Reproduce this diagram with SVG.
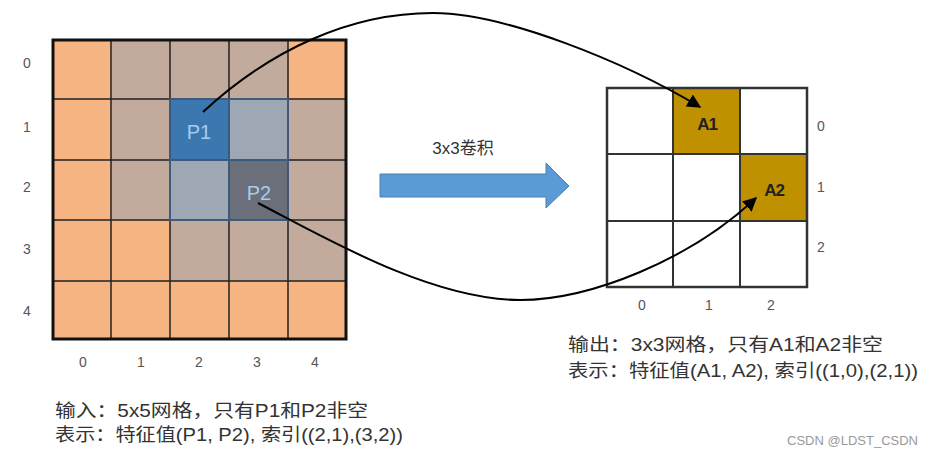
<svg xmlns="http://www.w3.org/2000/svg" width="932" height="457" viewBox="0 0 932 457">
<style>
.o{fill:#F6B483}.b{fill:#C2AB9C}.g{fill:#9EA8B4}
.lbl{font-family:"Liberation Sans","Noto Sans CJK SC",sans-serif;font-size:14px;fill:#555;text-anchor:middle}
.t{font-family:"Liberation Sans","Noto Sans CJK SC",sans-serif;font-size:18px;fill:#333}
.gl{stroke:#222;stroke-width:1.5;fill:none}
.rl{stroke:#333;stroke-width:2;fill:none}
.con{stroke:#000;stroke-width:2;fill:none}
</style>
<defs>
<marker id="ah" viewBox="0 0 10 10" refX="9" refY="5" markerWidth="7" markerHeight="7" orient="auto" markerUnits="strokeWidth">
<path d="M0,0 L10,5 L0,10 z" fill="#000"/>
</marker>
</defs>
<rect width="932" height="457" fill="#fff"/>
<g id="input-grid">
<rect class="o" x="53" y="40" width="58" height="59"/>
<rect class="b" x="111" y="40" width="59" height="59"/>
<rect class="b" x="170" y="40" width="59" height="59"/>
<rect class="b" x="229" y="40" width="59" height="59"/>
<rect class="o" x="288" y="40" width="58" height="59"/>
<rect class="o" x="53" y="99" width="58" height="61"/>
<rect class="b" x="111" y="99" width="59" height="61"/>
<rect fill="#3B78AF" x="170" y="99" width="59" height="61"/>
<rect class="g" x="229" y="99" width="59" height="61"/>
<rect class="b" x="288" y="99" width="58" height="61"/>
<rect class="o" x="53" y="160" width="58" height="60"/>
<rect class="b" x="111" y="160" width="59" height="60"/>
<rect class="g" x="170" y="160" width="59" height="60"/>
<rect fill="#6A6F79" x="229" y="160" width="59" height="60"/>
<rect class="b" x="288" y="160" width="58" height="60"/>
<rect class="o" x="53" y="220" width="58" height="61"/>
<rect class="o" x="111" y="220" width="59" height="61"/>
<rect class="b" x="170" y="220" width="59" height="61"/>
<rect class="b" x="229" y="220" width="59" height="61"/>
<rect class="b" x="288" y="220" width="58" height="61"/>
<rect class="o" x="53" y="281" width="293" height="58"/>
<path class="gl" d="M111,40V339M170,40V339M229,40V339M288,40V339M53,99H346M53,160H346M53,220H346M53,281H346"/>
<path d="M170,99H288V220H170z M229,99V220 M170,160H288" stroke="#3D6590" stroke-width="1.5" fill="none"/>
<rect x="53" y="40" width="293" height="299" fill="none" stroke="#111" stroke-width="3"/>
<text x="199" y="139" font-family="Liberation Sans,sans-serif" font-size="20" fill="#A8CCEE" text-anchor="middle">P1</text>
<text x="259" y="200" font-family="Liberation Sans,sans-serif" font-size="20" fill="#A8CCEE" text-anchor="middle">P2</text>
</g>
<g id="input-labels">
<text class="lbl" x="27" y="68">0</text>
<text class="lbl" x="27" y="132">1</text>
<text class="lbl" x="27" y="192">2</text>
<text class="lbl" x="27" y="254">3</text>
<text class="lbl" x="27" y="316">4</text>
<text class="lbl" x="83" y="367">0</text>
<text class="lbl" x="141" y="367">1</text>
<text class="lbl" x="199" y="367">2</text>
<text class="lbl" x="257" y="367">3</text>
<text class="lbl" x="315" y="367">4</text>
</g>
<g id="conv-arrow">
<path d="M380,174H546V163L569,186L546,208V197H380z" fill="#5B9BD5" stroke="#4A7FB0" stroke-width="1"/>
<text x="463" y="154" font-family="Liberation Sans,'Noto Sans CJK SC',sans-serif" font-size="17" fill="#333" text-anchor="middle">3x3卷积</text>
</g>
<g id="output-grid">
<rect x="673" y="88" width="67" height="66" fill="#BF9000"/>
<rect x="740" y="154" width="67" height="67" fill="#BF9000"/>
<path class="rl" d="M673,88V287M740,88V287M607,154H807M607,221H807"/>
<rect x="607" y="88" width="200" height="199" fill="none" stroke="#333" stroke-width="2.5"/>
<text x="707" y="130" font-family="Liberation Sans,sans-serif" font-size="17" font-weight="bold" fill="#222" text-anchor="middle" letter-spacing="-1">A1</text>
<text x="774" y="196" font-family="Liberation Sans,sans-serif" font-size="17" font-weight="bold" fill="#222" text-anchor="middle" letter-spacing="-1">A2</text>
</g>
<g id="output-labels">
<text class="lbl" x="821" y="131">0</text>
<text class="lbl" x="821" y="192">1</text>
<text class="lbl" x="821" y="252">2</text>
<text class="lbl" x="642" y="310">0</text>
<text class="lbl" x="709" y="310">1</text>
<text class="lbl" x="771" y="310">2</text>
</g>
<g id="connectors">
<path class="con" d="M203,112 C270,50 350,13 433,13 C505,13 625,62 700,107" marker-end="url(#ah)"/>
<path class="con" d="M258,203 C320,235 430,300 520,300 C590,300 690,260 756,198" marker-end="url(#ah)"/>
</g>
<g id="input-caption">
<text class="t" x="55" y="417" textLength="313" lengthAdjust="spacingAndGlyphs">输入：5x5网格，只有P1和P2非空</text>
<text class="t" x="55" y="441" textLength="348" lengthAdjust="spacingAndGlyphs">表示：特征值(P1, P2), 索引((2,1),(3,2))</text>
</g>
<g id="output-caption">
<text class="t" x="568" y="351" textLength="315" lengthAdjust="spacingAndGlyphs">输出：3x3网格，只有A1和A2非空</text>
<text class="t" x="568" y="377" textLength="350" lengthAdjust="spacingAndGlyphs">表示：特征值(A1, A2), 索引((1,0),(2,1))</text>
</g>
<text x="918" y="445" font-family="Liberation Sans,sans-serif" font-size="13" fill="#999" text-anchor="end">CSDN @LDST_CSDN</text>
</svg>
